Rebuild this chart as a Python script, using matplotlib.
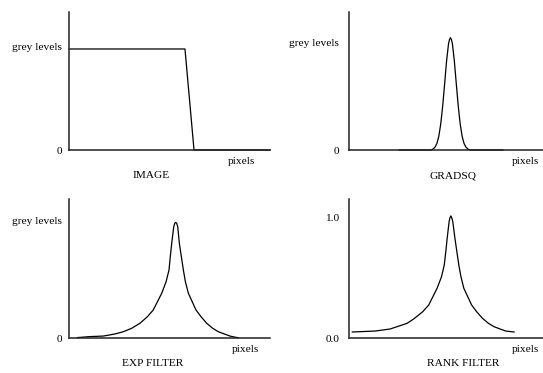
import matplotlib
matplotlib.use("Agg")
import matplotlib.pyplot as plt

plt.rcParams['font.family'] = ['Liberation Serif', 'DejaVu Serif']
plt.rcParams['font.size'] = 8.2

# values (x: 0..100 across the axis, y: fraction of axis height)
image_x = [0, 57.7, 62.2, 100]
image_y = [0.732, 0.732, 0, 0]

grad_x = [25.9, 42.3, 43.3, 44.3, 45.3, 46.3, 47.3, 48.3, 49.3, 50.3, 51.3, 51.8, 52.3,
          52.8, 53.3, 54.3, 55.3, 56.3, 57.3, 58.3, 59.3, 60.3, 61.3, 62.3, 79.3]
grad_y = [0, 0, 0.007, 0.02, 0.047, 0.10, 0.19, 0.32, 0.48, 0.645, 0.77, 0.80, 0.814,
          0.80, 0.77, 0.645, 0.48, 0.32, 0.19, 0.10, 0.047, 0.02, 0.007, 0, 0]

exp_x = [4.1, 10.4, 17.1, 22.9, 27.0, 31.2, 35.3, 39.0, 41.9, 46.1, 48.3, 49.75, 50.4, 51.1,
         52.1, 52.6, 53.1, 53.6, 54.1, 54.9, 55.9, 56.9, 57.9, 59.4, 63.2, 65.7, 68.5, 71.5,
         74.3, 77.3, 80.1, 82.6, 84.2]
exp_y = [0.003, 0.01, 0.014, 0.029, 0.045, 0.07, 0.106, 0.153, 0.201, 0.321, 0.405, 0.489,
         0.585, 0.681, 0.80, 0.825, 0.832, 0.825, 0.80, 0.681, 0.585, 0.489, 0.405, 0.321,
         0.201, 0.153, 0.106, 0.07, 0.045, 0.029, 0.014, 0.006, 0.002]

rank_x = [1.7, 13.5, 21.2, 29.9, 33.3, 38.0, 41.1, 45.4, 47.7, 49.1, 49.9, 50.6,
          51.6, 52.0, 52.5, 53.0, 53.5, 54.6, 55.6, 56.6, 57.7, 59.2, 63.2, 65.8, 68.8,
          71.9, 74.8, 77.9, 80.8, 85.1]
rank_y = [0.05, 0.058, 0.075, 0.122, 0.158, 0.219, 0.275, 0.414, 0.511, 0.608, 0.719,
          0.83, 0.969, 1.0, 1.017, 1.0, 0.969, 0.831, 0.719, 0.608, 0.511, 0.414, 0.275,
          0.219, 0.164, 0.122, 0.094, 0.075, 0.058, 0.05]

W, H = 543, 373
fig = plt.figure(figsize=(W / 100, H / 100), dpi=100)


def make_axes(x0, x1, ytop, ybot):
    return fig.add_axes([x0 / W, 1 - ybot / H, (x1 - x0) / W, (ybot - ytop) / H])


panels = [
    # axes box (px), data, ylim, ticks, labels, pad, title, title x, pixels x
    ((69, 270, 12, 150), image_x, image_y, 1.0, [0, 0.749], ['0', 'grey levels'], 5, 'IMAGE', 0.408, 0.858),
    ((349, 543, 12, 150), grad_x, grad_y, 1.0, [0, 0.78], ['0', 'grey levels'], 7, 'GRADSQ', 0.536, 0.909),
    ((69, 270, 199, 338), exp_x, exp_y, 1.0, [0, 0.847], ['0', 'grey levels'], 5, 'EXP FILTER', 0.415, 0.876),
    ((349, 543, 199, 338), rank_x, rank_y, 1.158, [0, 1.0], ['0.0', '1.0'], 7, 'RANK FILTER', 0.588, 0.909),
]

for box, xs, ys, ytop, ticks, labels, pad, title, tx, px in panels:
    ax = make_axes(*box)
    ax.plot(xs, ys, color='black', lw=0.9, clip_on=False, solid_joinstyle='round')
    ax.set_xlim(0, 100)
    ax.set_ylim(0, ytop)
    for s in ['top', 'right']:
        ax.spines[s].set_visible(False)
    for s in ['left', 'bottom']:
        ax.spines[s].set_linewidth(1.1)
        ax.spines[s].set_color('#222222')
    ax.set_xticks([])
    ax.set_yticks(ticks)
    ax.set_yticklabels(labels)
    ax.tick_params(axis='y', length=0, pad=pad, labelsize=8.2)
    ax.text(px, -0.085, 'pixels', transform=ax.transAxes, ha='center', va='center')
    ax.text(tx, -0.186, title, transform=ax.transAxes, ha='center', va='center')

fig.savefig('out.png', dpi=100)
